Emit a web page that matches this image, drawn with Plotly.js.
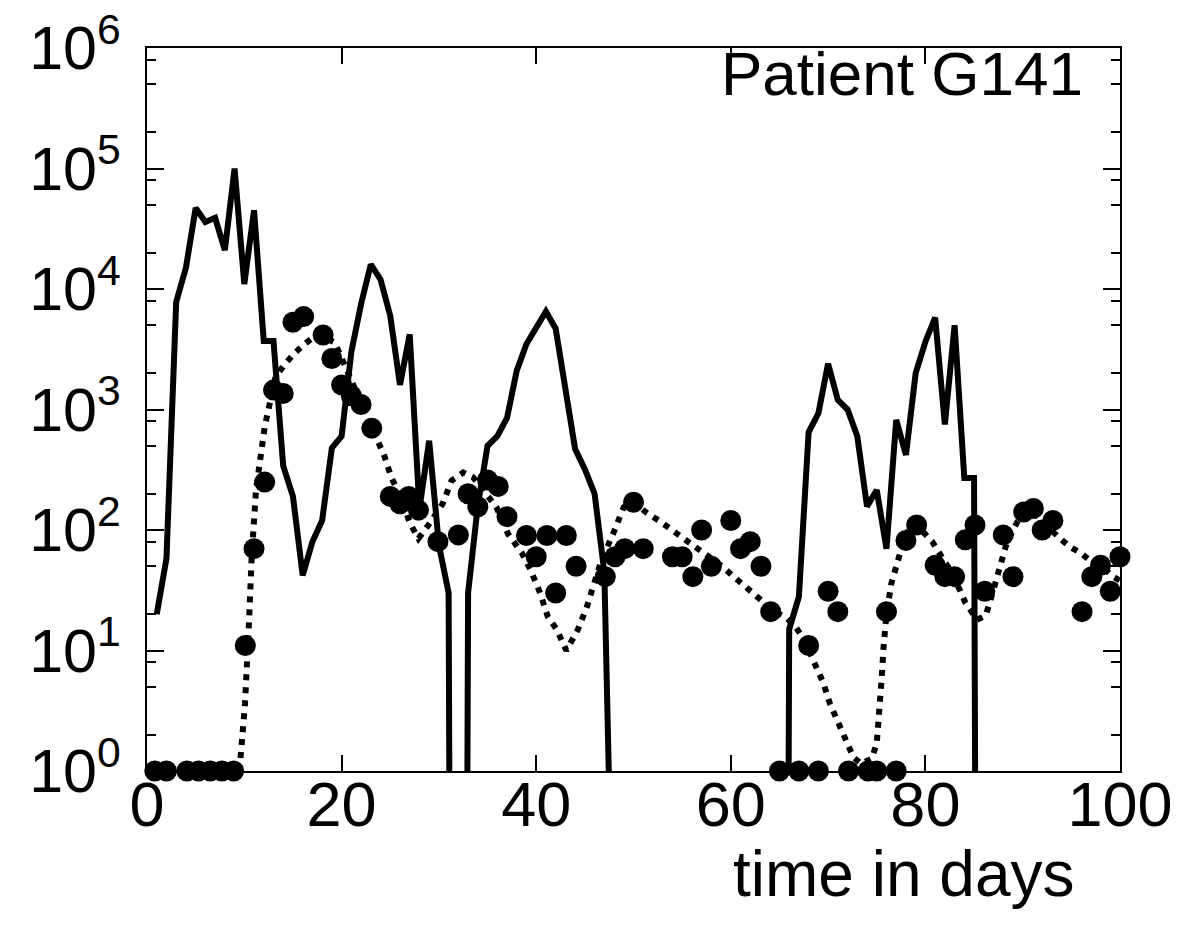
<!DOCTYPE html>
<html><head><meta charset="utf-8">
<script src="https://cdn.plot.ly/plotly-3.0.1.min.js"></script>
<style>html,body{margin:0;padding:0;background:#fff;}</style>
</head><body>
<div id="chart" style="width:1186px;height:934px;"></div>
<script>
// Solid line: daily measured series (0 = below detection)
const solidDays = [1,2,3,4,5,6,7,8,9,10,11,12,13,14,15,16,17,18,19,20,21,22,23,24,25,26,27,28,29,30,
  31,32,33,34,35,36,37,38,39,40,41,42,43,44,45,46,47,48,49,50,51,52,53,54,55,56,57,58,59,60,
  61,62,63,64,65,66,67,68,69,70,71,72,73,74,75,76,77,78,79,80,81,82,83,84,85,86];
const solidValues = [20,58,7800,15000,47000,36000,39000,21000,100000,11000,45000,3700,3700,340,190,42,80,120,480,600,
  3000,7500,16000,12000,6000,1600,4200,150,550,75,
  30,0,30,160,500,600,850,2100,3500,4800,6500,4700,1450,470,320,200,45,0,0,0,
  0,0,0,0,0,0,0,0,0,0,0,0,0,0,0,15,28,650,930,2400,
  1200,1000,600,157,215,70,820,420,2000,3650,5800,750,5000,270,270,0];

// Dotted line: model curve
const modelDays = [9.5,9.73,10.07,10.48,10.76,11.2,11.96,12.1,13.2,14.2,15.2,16.2,17.5,18.5,19.3,20.2,21.3,22.5,23.5,24.4,
  25.1,26.2,27.0,27.9,29.1,30.4,31.3,32.5,33.5,34.9,35.9,37.1,38.5,39.4,40.4,41.2,42.1,43.1,44.3,45.2,
  45.9,46.7,47.9,49.0,50.0,51.4,52.6,53.8,54.8,56.0,56.8,59.1,60.3,61.3,62.3,63.3,64.5,65.6,66.6,67.6,
  68.6,69.5,70.2,71.0,71.9,72.6,73.4,74.5,75.0,75.3,75.5,75.7,76.0,76.5,77.0,77.7,78.4,79.1,80.7,81.6,
  82.5,83.6,84.1,85.3,86.2,87.0,87.7,88.4,89.4,90.1,91.1,92.5,93.7,94.9,95.9,96.9,98.1,99.3,100];
const modelValues = [1.0,1.7,3.6,17,60,214,590,720,1860,2400,2950,3500,4200,3900,3600,2450,1550,930,630,410,
  275,178,115,85,115,166,257,300,275,200,155,93,65,47,30,19,15,10,15,23,
  34,56,93,155,170,138,120,102,87,76,66,50,41,35,30,25,21,19,16,12,
  7.8,5.4,3.6,2.5,1.7,1.3,1.15,1.27,1.7,3.0,5.8,10.7,20,36,52,78,107,110,80,60,
  47,31,25,18,19.5,32,52,80,115,138,140,107,87,72,65,56,50,41,38];

// Filled circles: observations
const dotDays = [0.8,2.0,4.1,5.3,6.5,7.7,8.9,10.1,11.0,12.1,13.0,14.0,15.0,16.1,18.1,19.0,20.0,21.0,22.0,23.1,
  25.0,26.0,26.9,27.9,29.9,32.0,33.0,34.0,35.0,36.1,37.0,39.0,40.0,41.1,42.0,43.1,44.1,47.1,48.1,49.1,
  50.0,51.0,54.0,55.0,56.1,57.0,58.0,60.0,61.0,62.0,63.1,64.1,65.0,67.0,68.0,69.0,70.0,71.0,72.1,74.1,
  75.0,76.0,77.0,78.0,79.1,81.0,82.0,83.0,84.1,85.1,86.1,88.0,89.0,90.1,91.1,92.0,93.1,96.1,97.1,98.0,99.0,100.0];
const dotValues = [1,1,1,1,1,1,1,11,70,250,1450,1360,5300,5900,4150,2650,1600,1300,1100,700,
  190,165,190,146,80,91,200,156,260,230,129,90,60,90,30,90,50,41,60,70,
  170,70,60,60,41,100,50,120,70,80,50,21,1,1,11,1,31,21,1,1,
  1,21,1,82,110,51,41,41,83,110,31,91,41,141,151,100,120,21,41,51,31,60];

const yTickVals = [1,10,100,1000,10000,100000,1000000];
const yTickText = ['10<sup>0</sup>','10<sup>1</sup>','10<sup>2</sup>','10<sup>3</sup>','10<sup>4</sup>','10<sup>5</sup>','10<sup>6</sup>'];
const yMinorVals = [2,5,8,20,50,80,200,500,800,2000,5000,8000,20000,50000,80000,200000,500000,800000];
const xTickVals = [0,20,40,60,80,100];

const LOG_FLOOR = 1e-20; // zero values drawn as a drop to the axis on the log scale
const solidPlot = solidValues.map(v => v > 0 ? v : LOG_FLOOR);

const FONT = 'Liberation Sans, Arial, Helvetica, sans-serif';

const traces = [
  {x: modelDays, y: modelValues, mode: 'lines', type: 'scatter',
   line: {color: '#000', width: 6, dash: '6px,7px'}, hoverinfo: 'skip'},
  {x: solidDays, y: solidPlot, mode: 'lines', type: 'scatter',
   line: {color: '#000', width: 6}, hoverinfo: 'skip'},
  {x: dotDays, y: dotValues, mode: 'markers', type: 'scatter',
   marker: {color: '#000', size: 21}, cliponaxis: false, hoverinfo: 'skip'}
];

const layout = {
  width: 1186, height: 934,
  margin: {l: 147, r: 66, t: 48, b: 163},
  paper_bgcolor: '#fff', plot_bgcolor: '#fff',
  showlegend: false,
  font: {family: FONT, color: '#000', size: 60},
  xaxis: {
    range: [0, 100], tickmode: 'array', tickvals: xTickVals,
    ticks: 'inside', ticklen: 16, tickwidth: 2, tickcolor: '#000',
    ticklabelstandoff: -23,
    showline: true, linewidth: 2, linecolor: '#000', mirror: 'allticks',
    showgrid: false, zeroline: false,
    tickfont: {family: FONT, size: 63, color: '#000'}
  },
  yaxis: {
    type: 'log', range: [0, 6], tickmode: 'array', tickvals: yTickVals, ticktext: yTickText,
    ticks: 'inside', ticklen: 17, tickwidth: 2, tickcolor: '#000',
    ticklabelstandoff: 12,
    minor: {tickmode: 'array', tickvals: yMinorVals, ticks: 'inside', ticklen: 9, tickwidth: 2, tickcolor: '#000', showgrid: false},
    showline: true, linewidth: 2, linecolor: '#000', mirror: 'allticks',
    showgrid: false, zeroline: false,
    tickfont: {family: FONT, size: 61, color: '#000'}
  },
  annotations: [
    {text: 'Patient G141', xref: 'paper', yref: 'paper', x: 0.964, y: 0.965,
     xanchor: 'right', yanchor: 'middle', showarrow: false,
     font: {family: FONT, size: 62, color: '#000'}},
    {text: 'time in days', xref: 'paper', yref: 'paper', x: 0.778, y: -0.143,
     xanchor: 'center', yanchor: 'middle', showarrow: false,
     font: {family: FONT, size: 64, color: '#000'}}
  ]
};

Plotly.newPlot('chart', traces, layout, {staticPlot: true, displayModeBar: false});
</script>
</body></html>
